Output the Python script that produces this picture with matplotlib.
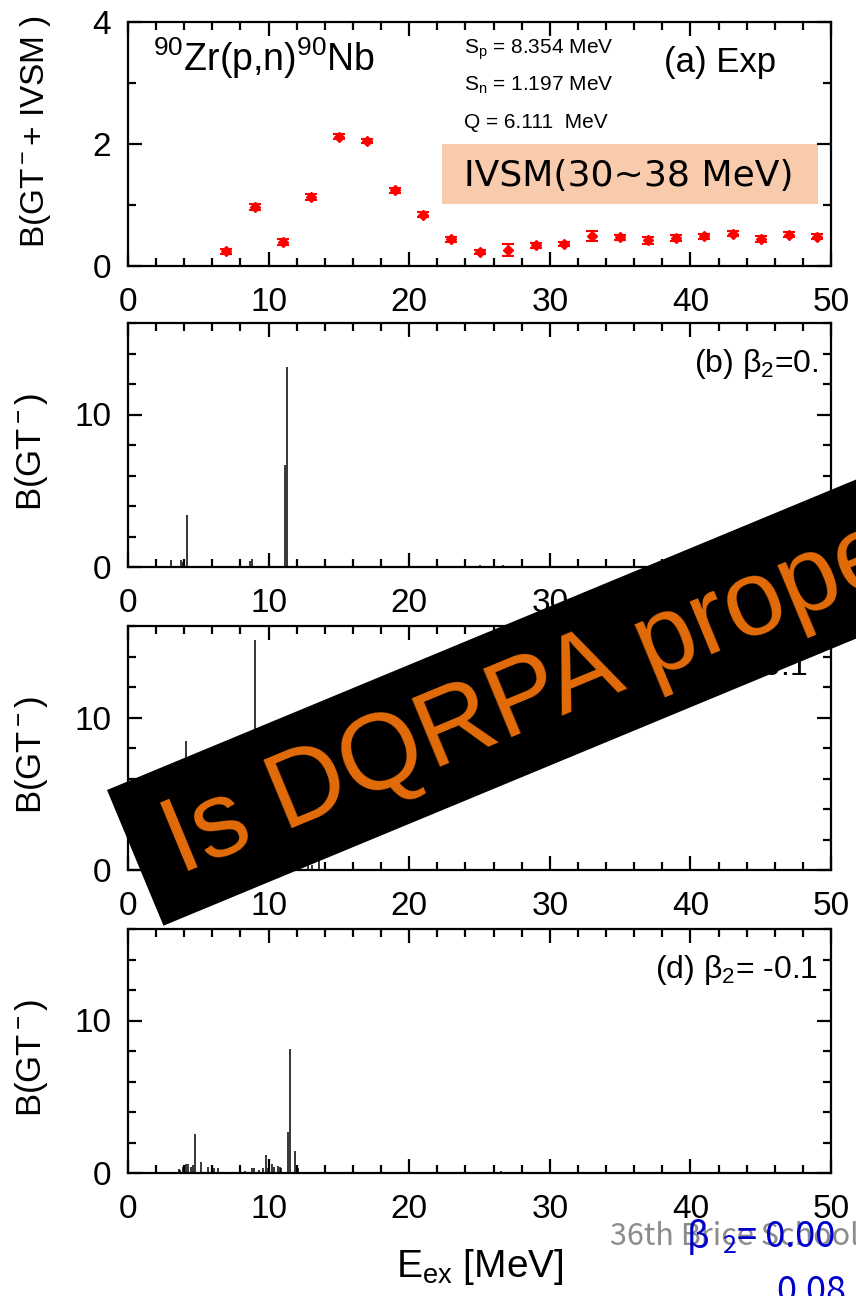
#!/usr/bin/env python3

import matplotlib
matplotlib.use('Agg')
import matplotlib.pyplot as plt
from matplotlib.patches import Polygon, Rectangle
from matplotlib.ticker import MultipleLocator

plt.rcParams['font.family'] = ['Liberation Sans', 'DejaVu Sans']
plt.rcParams['mathtext.fontset'] = 'custom'
plt.rcParams['mathtext.rm'] = 'Liberation Sans'
plt.rcParams['mathtext.it'] = 'Liberation Sans:italic'
plt.rcParams['mathtext.default'] = 'regular'

W, H = 856, 1296

# (a) measured B(GT- + IVSM) per 2 MeV bin
exp_e = [7, 9, 11, 13, 15, 17, 19, 21, 23, 25, 27, 29, 31, 33, 35, 37, 39, 41, 43, 45, 47, 49]
exp_b = [0.24, 0.96, 0.39, 1.13, 2.12, 2.05, 1.24, 0.84, 0.44, 0.23, 0.26,
         0.34, 0.36, 0.49, 0.47, 0.42, 0.46, 0.49, 0.53, 0.45, 0.51, 0.48]
exp_err = [0.04, 0.05, 0.05, 0.05, 0.04, 0.04, 0.04, 0.04, 0.04, 0.03, 0.10,
           0.04, 0.04, 0.08, 0.04, 0.06, 0.05, 0.04, 0.04, 0.05, 0.04, 0.04]

# (b) beta2 = 0.
b_e = [3.05, 3.8, 3.9, 4.2, 8.7, 8.8, 11.2, 11.3, 25.0, 26.7]
b_b = [0.46, 0.45, 0.3, 3.44, 0.4, 0.55, 6.7, 13.1, 0.15, 0.1]

# (c) beta2 = 0.1
c_e = [4.1, 9.0, 12.8, 13.1, 13.6]
c_b = [8.45, 15.05, 0.3, 0.35, 0.7]

# (d) beta2 = -0.1
d_e = [3.6, 3.7, 3.9, 4.1, 4.25, 4.45, 4.6, 4.75, 5.2, 5.7, 6.1, 6.4,
       8.3, 8.8, 8.95, 9.3, 9.6, 9.85, 9.95, 10.25, 10.4, 10.7, 10.8, 10.9,
       11.4, 11.5, 11.9, 12.0, 12.1, 26.5, 28.0]
d_b = [0.26, 0.2, 0.4, 0.6, 0.6, 0.37, 0.5, 2.58, 0.74, 0.37, 0.3, 0.3,
       0.15, 0.3, 0.35, 0.2, 0.3, 1.17, 0.3, 0.58, 0.4, 0.45, 0.4, 0.35,
       2.7, 8.1, 1.41, 0.4, 0.3, 0.1, 0.1]

theory = [
    (b_e, b_b, r'(b) $\beta_2$=0.', 0.982),
    (c_e, c_b, r'(c) $\beta_2$= 0.1', 0.967),
    (d_e, d_b, r'(d) $\beta_2$= -0.1', 0.982),
]

FOOT_FONT = ['Noto Sans CJK KR', 'DejaVu Sans']


def px(x, y):
    # pixel position (origin top-left) -> figure fraction
    return x / W, 1 - y / H


def style(ax, ymax, ymaj, ymin):
    ax.set_xlim(0, 50)
    ax.set_ylim(0, ymax)
    ax.xaxis.set_major_locator(MultipleLocator(10))
    ax.xaxis.set_minor_locator(MultipleLocator(2))
    ax.yaxis.set_major_locator(MultipleLocator(ymaj))
    ax.yaxis.set_minor_locator(MultipleLocator(ymin))
    ax.tick_params(which='both', direction='in', top=True, right=True,
                   width=1.6, labelsize=24)
    ax.tick_params(which='major', length=10)
    ax.tick_params(which='minor', length=6)
    ax.tick_params(axis='x', which='major', pad=15)
    ax.tick_params(axis='y', which='major', pad=12)
    for s in ax.spines.values():
        s.set_linewidth(1.6)


def main():
    fig = plt.figure(figsize=(W / 100, H / 100), dpi=100)

    tops = [22, 323, 626, 929]
    axes = []
    for t in tops:
        l, b = px(128, t + 244)
        axes.append(fig.add_axes([l, b, 703 / W, 244 / H]))

    # (a) experiment
    ax = axes[0]
    style(ax, 4, 2, 1)
    ax.add_patch(Rectangle((22.3, 1.02), 26.8, 0.98, facecolor='#F8CBAD',
                           edgecolor='none', zorder=1))
    ax.text(35.6, 1.48, 'IVSM(30~38 MeV)', fontsize=26, family='DejaVu Sans',
            ha='center', va='center', zorder=2)
    ax.errorbar(exp_e, exp_b, yerr=exp_err, fmt='D', color='red', ms=5,
                capsize=4, elinewidth=1.5, capthick=1.5, zorder=3)
    ax.text(1.8, 3.2, r'$^{90}$Zr(p,n)$^{90}$Nb', fontsize=27)
    ax.text(23.9, 3.48, r'S$_p$ = 8.354 MeV', fontsize=15)
    ax.text(23.9, 2.88, r'S$_n$ = 1.197 MeV', fontsize=15)
    ax.text(23.9, 2.27, 'Q = 6.111  MeV', fontsize=15)
    ax.text(38.1, 3.18, '(a) Exp', fontsize=25)
    ax.set_ylabel(r'B(GT$^-$+ IVSM )', fontsize=24)
    ax.yaxis.set_label_coords(-0.107, 0.55)

    # (b)-(d) calculated strengths
    for ax, (e, bgt, label, lx) in zip(axes[1:], theory):
        style(ax, 16, 10, 2)
        ax.vlines(e, 0, bgt, color='black', linewidth=1.1)
        ax.text(lx, 0.9, label, transform=ax.transAxes, fontsize=23,
                ha='right', va='top')
        ax.set_ylabel(r'B(GT$^-$)', fontsize=25)
        ax.yaxis.set_label_coords(-0.111, 0.47)

    axes[-1].set_xlabel(r'E$_{ex}$ [MeV]', fontsize=28, labelpad=16)

    # black banner with question
    a = (107, 790)
    b = (163.5, 925.7)
    dx, dy = 0.924 * 1100, -0.383 * 1100
    corners = [a, b, (b[0] + dx, b[1] + dy), (a[0] + dx, a[1] + dy)]
    fig.add_artist(Polygon([px(*p) for p in corners], closed=True,
                           facecolor='black', edgecolor='none',
                           transform=fig.transFigure, zorder=5))
    fig.text(*px(180, 875), 'Is DQRPA proper?', rotation=22.5,
             rotation_mode='anchor', ha='left', va='baseline',
             color='#E46C0A', fontsize=77, zorder=6)

    # footer texts
    fig.text(*px(610, 1245), '36th Brice School', color='#8C8C8C',
             fontsize=22, family=FOOT_FONT, zorder=6)
    fig.text(*px(686, 1248), r'$\beta$', color='#0000CC',
             fontsize=26, family=FOOT_FONT, zorder=7)
    fig.text(*px(723, 1253), '2', color='#0000CC',
             fontsize=18, family=FOOT_FONT, zorder=7)
    fig.text(*px(737, 1247), '= 0.00', color='#0000CC',
             fontsize=26, family=FOOT_FONT, zorder=7)
    fig.text(*px(776, 1302), '0.08', color='#0000CC',
             fontsize=26, family=FOOT_FONT, zorder=7)

    fig.savefig('out.png', dpi=100)


if __name__ == '__main__':
    main()
